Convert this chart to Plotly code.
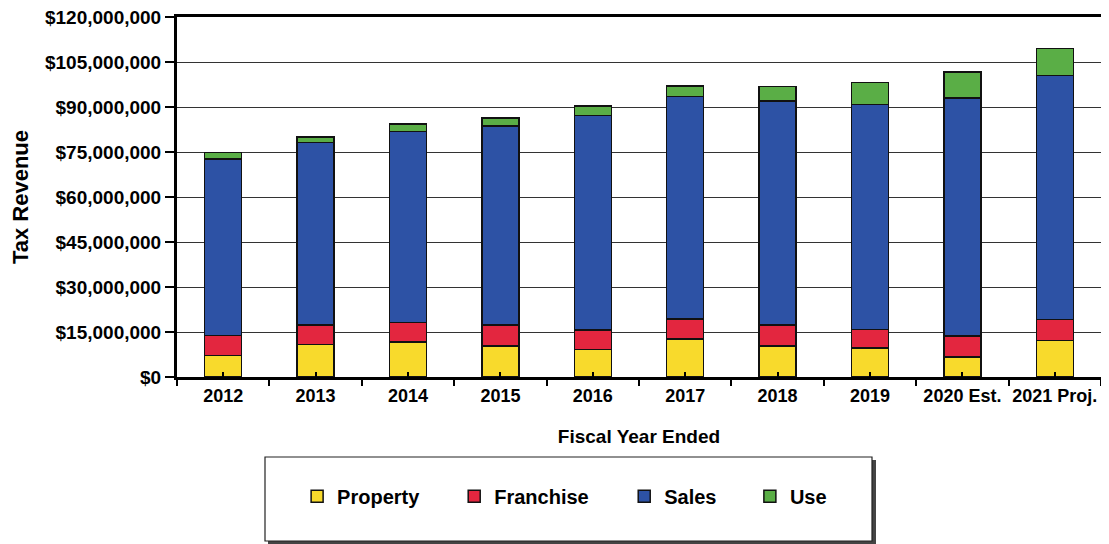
import plotly.graph_objects as go

years = ["2012", "2013", "2014", "2015", "2016", "2017", "2018", "2019", "2020 Est.", "2021 Proj."]
# values in dollars
property_tax = [7.2e6, 10.8e6, 11.6e6, 10.4e6, 9.1e6, 12.6e6, 10.3e6, 9.6e6, 6.6e6, 12.1e6]
franchise_tax = [6.6e6, 6.5e6, 6.6e6, 7.0e6, 6.6e6, 6.7e6, 7.0e6, 6.3e6, 7.1e6, 7.1e6]
sales_tax = [58.9e6, 60.8e6, 63.7e6, 66.2e6, 71.4e6, 74.2e6, 74.7e6, 74.9e6, 79.3e6, 81.3e6]
use_tax = [2.2e6, 1.9e6, 2.4e6, 2.8e6, 3.3e6, 3.5e6, 4.8e6, 7.3e6, 8.6e6, 9.0e6]
y_ticks = [0, 15e6, 30e6, 45e6, 60e6, 75e6, 90e6, 105e6, 120e6]
y_tick_labels = ["$0", "$15,000,000", "$30,000,000", "$45,000,000", "$60,000,000",
                 "$75,000,000", "$90,000,000", "$105,000,000", "$120,000,000"]

bold = dict(family="Liberation Sans, Arial", weight="bold", color="black")

series = [
    ("Property", property_tax, "#F8DA2C", "legend"),
    ("Franchise", franchise_tax, "#E3263F", "legend2"),
    ("Sales", sales_tax, "#2D52A5", "legend3"),
    ("Use", use_tax, "#5AAE46", "legend4"),
]

fig = go.Figure()
for name, vals, color, leg in series:
    fig.add_trace(go.Bar(
        x=years, y=vals, name=name, legend=leg,
        marker=dict(color=color, line=dict(color="#111", width=1.5)),
    ))

# empty helper trace so the overlay axis (centre ticks) gets drawn
fig.add_trace(go.Scatter(x=list(range(len(years))), y=[None] * len(years),
                         xaxis="x2", mode="markers", showlegend=False, hoverinfo="skip"))

# page body adds an 8px offset, so the figure is 8px smaller than the window
fig.update_layout(
    barmode="stack", bargap=0.6,
    width=1101, height=536,
    margin=dict(l=169, r=8, t=9, b=167, autoexpand=False),
    paper_bgcolor="white", plot_bgcolor="white",
    font=dict(size=18, **bold),
    showlegend=True,
)

leg_common = dict(orientation="h", yanchor="middle", y=-0.331, xanchor="left",
                  bgcolor="rgba(0,0,0,0)", font=dict(size=20, **bold))
fig.update_layout(
    legend=dict(x=0.130, **leg_common),
    legend2=dict(x=0.300, **leg_common),
    legend3=dict(x=0.484, **leg_common),
    legend4=dict(x=0.620, **leg_common),
)

# legend frame with drop shadow
fig.add_shape(type="rect", xref="paper", yref="paper",
              x0=(268 - 177) / 924, x1=(876 - 177) / 924,
              y0=(377 - 544) / 360, y1=(377 - 460) / 360,
              fillcolor="#444", line=dict(width=0), layer="below")
fig.add_shape(type="rect", xref="paper", yref="paper",
              x0=(265 - 177) / 924, x1=(872 - 177) / 924,
              y0=(377 - 541) / 360, y1=(377 - 457) / 360,
              fillcolor="white", line=dict(color="#222", width=1.2), layer="below")

fig.update_xaxes(
    title=dict(text="Fiscal Year Ended", font=dict(size=19, **bold), standoff=26),
    showline=True, linecolor="black", linewidth=3, mirror=True,
    ticks="outside", tickson="boundaries", ticklen=6, tickcolor="black", tickwidth=1.5,
    tickfont=dict(size=18, **bold), tickangle=0, automargin=True,
    selector=dict(anchor="y", overlaying=None),
)
fig.update_layout(xaxis=dict(
    title=dict(text="Fiscal Year Ended", font=dict(size=19, **bold), standoff=26),
    showline=True, linecolor="black", linewidth=3, mirror=True,
    ticks="outside", tickson="boundaries", ticklen=6, tickcolor="black", tickwidth=1.5,
    tickfont=dict(size=18, **bold), tickangle=0, automargin=True,
))
fig.update_yaxes(
    title=dict(text="Tax Revenue", font=dict(size=22, **bold), standoff=14),
    range=[0, 120e6], tickvals=y_ticks, ticktext=y_tick_labels,
    showline=True, linecolor="black", linewidth=3, mirror=True,
    ticks="outside", ticklen=9, tickcolor="black", tickwidth=1.5,
    showgrid=True, gridcolor="#333", gridwidth=1.3,
    tickfont=dict(size=19, **bold), ticklabeloverflow="allow", automargin=True,
)
# small inward ticks at the bar centres
fig.update_layout(xaxis2=dict(
    overlaying="x", anchor="y", side="bottom", range=[-0.5, len(years) - 0.5],
    tickvals=list(range(len(years))), showticklabels=False, ticks="inside",
    ticklen=5, tickwidth=1.5, tickcolor="black", showgrid=False, showline=False,
    zeroline=False, fixedrange=True,
))

fig.write_html("out.html")
